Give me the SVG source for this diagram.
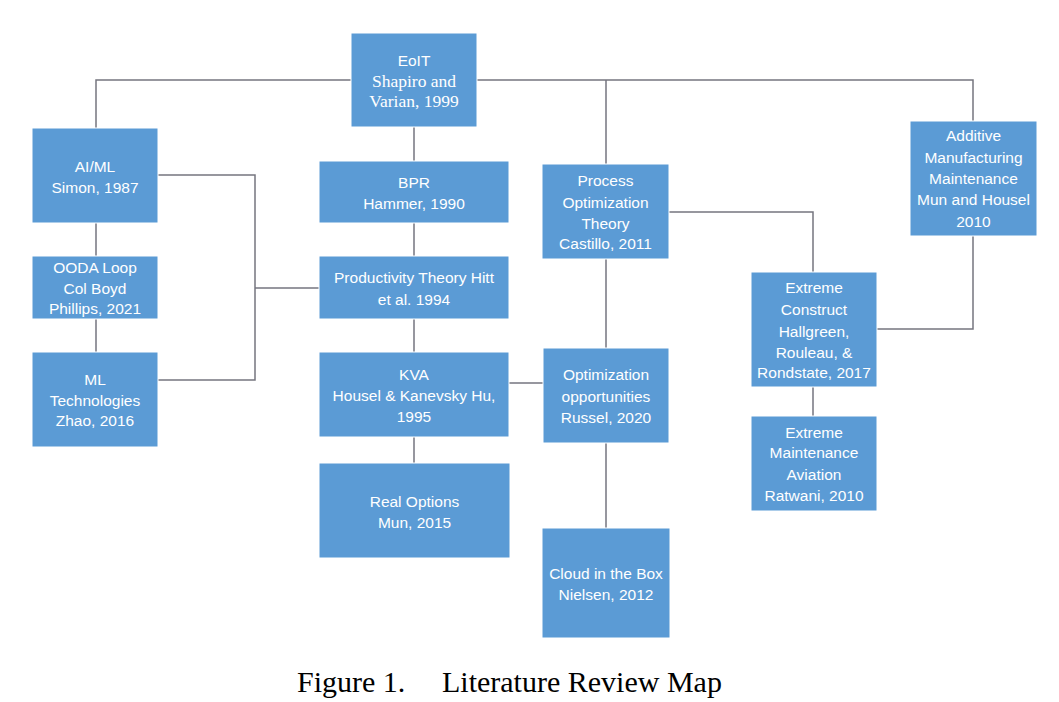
<svg xmlns="http://www.w3.org/2000/svg" width="1059" height="702" viewBox="0 0 1059 702">
<style>
.box{fill:#5b9bd5;stroke:#ffffff;stroke-width:1}
.t{font-family:"Liberation Sans",Arial,sans-serif;font-size:15.5px;fill:#ffffff;text-anchor:middle}
.s{font-family:"Liberation Serif","Times New Roman",serif;font-size:17.5px;fill:#ffffff;text-anchor:middle}
.c{fill:none;stroke:#75757f;stroke-width:1.5}
.cap{font-family:"Liberation Serif","Times New Roman",serif;font-size:30px;fill:#000000}
</style>
<rect width="1059" height="702" fill="#ffffff"/>
<g id="connectors">
<path class="c" d="M96,128 V80 H973 V121"/>
<path class="c" d="M414,127 V161"/>
<path class="c" d="M606,80 V164"/>
<path class="c" d="M96,223 V256"/>
<path class="c" d="M96,319 V352"/>
<path class="c" d="M158,175 H255 V380 H158"/>
<path class="c" d="M255,288 H319"/>
<path class="c" d="M414,223 V256"/>
<path class="c" d="M414,319 V352"/>
<path class="c" d="M414,437 V463"/>
<path class="c" d="M509,383 H543"/>
<path class="c" d="M606,259 V348"/>
<path class="c" d="M606,443 V528"/>
<path class="c" d="M669,212 H813 V272"/>
<path class="c" d="M973,236 V329 H877"/>
<path class="c" d="M813,387 V416"/>
</g>
<g id="eoit">
<rect class="box" x="351" y="33" width="126" height="94"/>
<text class="t" x="414" y="65.5">EoIT</text>
<text class="s" x="414" y="87">Shapiro and</text>
<text class="s" x="414" y="107">Varian, 1999</text>
</g>
<g id="aiml">
<rect class="box" x="32" y="128" width="126" height="95"/>
<text class="t" x="95" y="171.5">AI/ML</text>
<text class="t" x="95" y="192.5">Simon, 1987</text>
</g>
<g id="ooda">
<rect class="box" x="32" y="256" width="126" height="63"/>
<text class="t" x="95" y="272.5">OODA Loop</text>
<text class="t" x="95" y="293.5">Col Boyd</text>
<text class="t" x="95" y="313.5">Phillips, 2021</text>
</g>
<g id="ml">
<rect class="box" x="32" y="352" width="126" height="95"/>
<text class="t" x="95" y="384.5">ML</text>
<text class="t" x="95" y="405.5">Technologies</text>
<text class="t" x="95" y="425.5">Zhao, 2016</text>
</g>
<g id="bpr">
<rect class="box" x="319" y="161" width="190" height="62"/>
<text class="t" x="414" y="187.5">BPR</text>
<text class="t" x="414" y="208.5">Hammer, 1990</text>
</g>
<g id="productivity">
<rect class="box" x="319" y="256" width="190" height="63"/>
<text class="t" x="414" y="282.5">Productivity Theory Hitt</text>
<text class="t" x="414" y="304.5">et al. 1994</text>
</g>
<g id="kva">
<rect class="box" x="319" y="352" width="190" height="85"/>
<text class="t" x="414" y="379.5">KVA</text>
<text class="t" x="414" y="400.5">Housel &amp; Kanevsky Hu,</text>
<text class="t" x="414" y="421.5">1995</text>
</g>
<g id="realoptions">
<rect class="box" x="319" y="463" width="191" height="95"/>
<text class="t" x="414.5" y="506.5">Real Options</text>
<text class="t" x="414.5" y="527.5">Mun, 2015</text>
</g>
<g id="process">
<rect class="box" x="542" y="164" width="127" height="95"/>
<text class="t" x="605.5" y="185.5">Process</text>
<text class="t" x="605.5" y="207.5">Optimization</text>
<text class="t" x="605.5" y="228.5">Theory</text>
<text class="t" x="605.5" y="248.5">Castillo, 2011</text>
</g>
<g id="optopp">
<rect class="box" x="543" y="348" width="126" height="95"/>
<text class="t" x="606" y="379.5">Optimization</text>
<text class="t" x="606" y="401.5">opportunities</text>
<text class="t" x="606" y="422.5">Russel, 2020</text>
</g>
<g id="cloud">
<rect class="box" x="542" y="528" width="128" height="110"/>
<text class="t" x="606" y="578.5">Cloud in the Box</text>
<text class="t" x="606" y="599.5">Nielsen, 2012</text>
</g>
<g id="additive">
<rect class="box" x="910" y="121" width="127" height="115"/>
<text class="t" x="973.5" y="140.5">Additive</text>
<text class="t" x="973.5" y="162.5">Manufacturing</text>
<text class="t" x="973.5" y="183.5">Maintenance</text>
<text class="t" x="973.5" y="204.5">Mun and Housel</text>
<text class="t" x="973.5" y="226.5">2010</text>
</g>
<g id="extconstruct">
<rect class="box" x="751" y="272" width="126" height="115"/>
<text class="t" x="814" y="292.5">Extreme</text>
<text class="t" x="814" y="314.5">Construct</text>
<text class="t" x="814" y="336.5">Hallgreen,</text>
<text class="t" x="814" y="357.5">Rouleau, &amp;</text>
<text class="t" x="814" y="377.5">Rondstate, 2017</text>
</g>
<g id="extmaint">
<rect class="box" x="751" y="416" width="126" height="95"/>
<text class="t" x="814" y="437.5">Extreme</text>
<text class="t" x="814" y="457.5">Maintenance</text>
<text class="t" x="814" y="479.5">Aviation</text>
<text class="t" x="814" y="500.5">Ratwani, 2010</text>
</g>
<g id="caption">
<text class="cap" x="297" y="692">Figure 1.</text>
<text class="cap" x="442" y="692">Literature Review Map</text>
</g>
</svg>
